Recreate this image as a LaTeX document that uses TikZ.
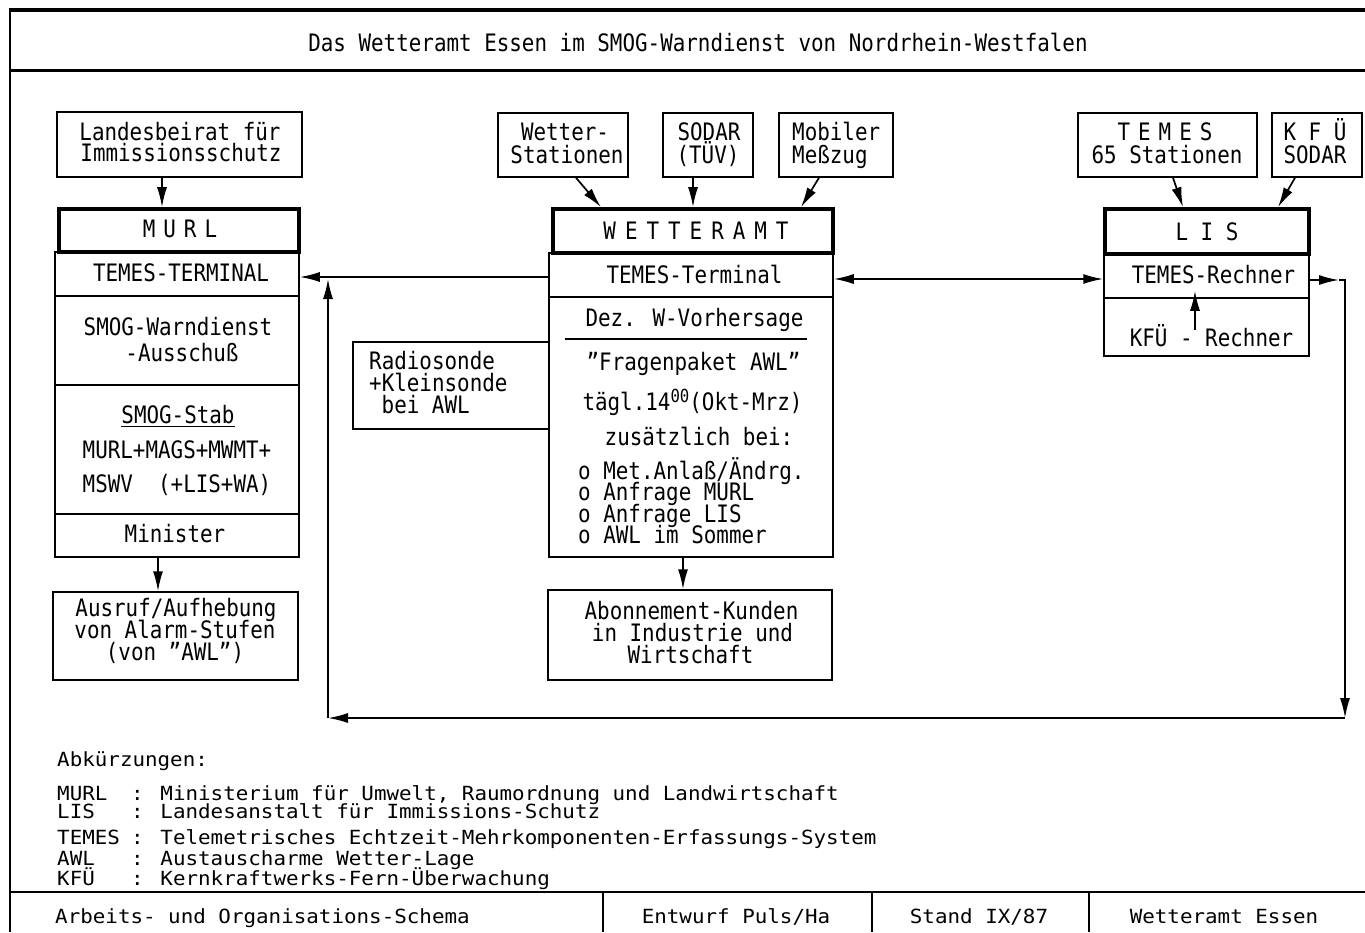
\documentclass[tikz,border=0pt]{standalone}
\usepackage{fontspec}
\usetikzlibrary{arrows.meta}
\newfontfamily\bfam[FakeStretch=0.87]{DejaVu Sans Mono}
\newfontfamily\lfam[FakeStretch=1.07]{DejaVu Sans Mono}
\newcommand\bfnt{\bfam\fontsize{24pt}{22pt}\selectfont}
\newcommand\lfnt{\lfam\fontsize{19.5pt}{22pt}\selectfont}
\newcommand\lsp{\hspace{8pt}}
\newcommand\wsp{\hspace{9pt}}
\begin{document}
\begin{tikzpicture}[x=1pt,y=-1pt,
  box/.style={draw, line width=1.5pt, inner sep=0pt},
  hbox/.style={draw, line width=3.6pt, inner sep=0pt},
  tx/.style={inner sep=0pt, font=\bfnt, text height=16pt, text depth=0pt},
  lg/.style={inner sep=0pt, font=\lfnt, text height=14pt, text depth=0pt, anchor=west},
  arr/.style={line width=1.7pt, -{Latex[length=20pt,width=10pt]}},
  darr/.style={line width=1.7pt, {Latex[length=20pt,width=10pt]}-{Latex[length=20pt,width=10pt]}}]
\useasboundingbox (0,0) rectangle (1365,932);
\fill[white] (0,0) rectangle (1365,932);
% frame
\draw[line width=4pt] (10,10) -- (1365,10);
\draw[line width=3pt] (10,70) -- (1365,70);
\draw[line width=2.4pt] (10,8) -- (10,932);
\draw[line width=2.2pt] (10,892) -- (1365,892);
\draw[line width=1.6pt] (603,892) -- (603,932) (872,892) -- (872,932) (1089,892) -- (1089,932);
\node[tx] (title) at (698,43) {Das Wetteramt Essen im SMOG-Warndienst von Nordrhein-Westfalen};

% ---------- left column
\node[box, minimum width=245pt, minimum height=65pt] (lbr) at (179.5,144.5) {};
\node[tx] (lbr1) at (180,132) {Landesbeirat für};
\node[tx] (lbr2) at (181,153.5) {Immissionsschutz};
\node[hbox, minimum width=240pt, minimum height=43pt] (murlH) at (179,230.5) {};
\node[tx] (murlHt) at (180,229) {M\lsp U\lsp R\lsp L};
\node[box, minimum width=244pt, minimum height=44pt] (murl1) at (177,274) {};
\node[tx] (murl1t) at (181,273) {TEMES-TERMINAL};
\node[box, minimum width=244pt, minimum height=89pt] (murl2) at (177,340.5) {};
\node[tx] (murl2a) at (178,327) {SMOG-Warndienst};
\node[tx] (murl2b) at (182,353) {-Ausschuß};
\node[box, minimum width=244pt, minimum height=129pt] (murl3) at (177,449.5) {};
\node[tx] (sstab) at (178,415.5) {SMOG-Stab};
\draw[line width=1.3pt] ([yshift=-2.5pt]sstab.south west) -- ([yshift=-2.5pt]sstab.south east);
\node[tx] (murl3a) at (177,450.5) {MURL+MAGS+MWMT+};
\node[tx] (murl3b) at (177,484.5) {MSWV\ \ (+LIS+WA)};
\node[box, minimum width=244pt, minimum height=43pt] (murl4) at (177,535.5) {};
\node[tx] (murl4t) at (175,534.5) {Minister};
\node[box, minimum width=245pt, minimum height=88pt] (ausruf) at (175.5,636) {};
\node[tx] (aus1) at (176,608) {Ausruf/Aufhebung};
\node[tx] (aus2) at (175,630) {von Alarm-Stufen};
\node[tx] (aus3) at (175,652) {(von ”AWL”)};

% ---------- centre column
\node[box, minimum width=130pt, minimum height=64pt] (ws) at (563,145) {};
\node[tx] (ws1) at (565,132) {Wetter-};
\node[tx] (ws2) at (567,155) {Stationen};
\node[box, minimum width=90pt, minimum height=64pt] (sodar) at (708,145) {};
\node[tx] (sod1) at (709,132) {SODAR};
\node[tx] (sod2) at (708,155) {(TÜV)};
\node[box, minimum width=114pt, minimum height=64pt] (mob) at (836,145) {};
\node[tx, anchor=west] (mob1) at (792,132) {Mobiler};
\node[tx, anchor=west] (mob2) at (792,155) {Meßzug};
\node[hbox, minimum width=280pt, minimum height=44pt] (wH) at (693,231) {};
\node[tx] (wHt) at (696,231) {W\wsp E\wsp T\wsp T\wsp E\wsp R\wsp A\wsp M\wsp T};
\node[box, minimum width=284pt, minimum height=44pt] (wT) at (691,275) {};
\node[tx] (wTt) at (694.5,275) {TEMES-Terminal};
\node[box, minimum width=284pt, minimum height=260pt] (wB) at (691,427) {};
\node[tx] (dez) at (694.5,318) {Dez. W-Vorhersage};
\draw[line width=1.3pt] (565,339) -- (807,339);
\node[tx] (frag) at (693.5,362) {”Fragenpaket AWL”};
\node[tx] (taegl) at (692.5,402) {tägl.14\raisebox{8pt}{\fontsize{18pt}{18pt}\selectfont 00}(Okt-Mrz)};
\node[tx] (zus) at (699,437) {zusätzlich bei:};
\node[tx, anchor=west] (li1) at (578,471) {o Met.Anlaß/Ändrg.};
\node[tx, anchor=west] (li2) at (578,492.5) {o Anfrage MURL};
\node[tx, anchor=west] (li3) at (578,514) {o Anfrage LIS};
\node[tx, anchor=west] (li4) at (578,535.5) {o AWL im Sommer};
\node[box, minimum width=196pt, minimum height=87pt] (radio) at (451,385.5) {};
\node[tx, anchor=west] (rad1) at (369,361.5) {Radiosonde};
\node[tx, anchor=west] (rad2) at (369,383) {+Kleinsonde};
\node[tx, anchor=west] (rad3) at (381.5,405) {bei AWL};
\node[box, minimum width=284pt, minimum height=90pt] (abo) at (690,635) {};
\node[tx] (abo1) at (691.5,611) {Abonnement-Kunden};
\node[tx] (abo2) at (692.5,633) {in Industrie und};
\node[tx] (abo3) at (690.5,655) {Wirtschaft};

% ---------- right column
\node[box, minimum width=179pt, minimum height=64pt] (temes) at (1167.5,145) {};
\node[tx] (tem1) at (1165,132) {T\lsp E\lsp M\lsp E\lsp S};
\node[tx] (tem2) at (1167,155) {65 Stationen};
\node[box, minimum width=90pt, minimum height=64pt] (kfu) at (1317,145) {};
\node[tx] (kfu1) at (1315,132) {K F Ü};
\node[tx] (kfu2) at (1315,155) {SODAR};
\node[hbox, minimum width=204pt, minimum height=45pt] (lisH) at (1207,231.5) {};
\node[tx] (lisHt) at (1207,232) {L I S};
\node[box, minimum width=205pt, minimum height=44pt] (lisT) at (1206.5,276) {};
\node[tx] (lisTt) at (1213.5,275) {TEMES-Rechner};
\node[box, minimum width=205pt, minimum height=58pt] (lisK) at (1206.5,327) {};
\node[tx] (lisKt) at (1211.5,338) {KFÜ - Rechner};

% ---------- connectors
\draw[arr] (lbr.south -| 162,0) -- (murlH.north -| 162,0);
\draw[arr] (murl4.south -| 158,0) -- (ausruf.north -| 158,0);
\draw[arr] (wB.south -| 683,0) -- (abo.north -| 683,0);
\draw[arr] ([xshift=13pt]ws.south) -- ([xshift=-92pt]wH.north);
\draw[arr] (sodar.south -| wH.north) -- (wH.north);
\draw[arr] ([xshift=-17pt]mob.south) -- ([xshift=108pt]wH.north);
\draw[arr] ([xshift=5.5pt]temes.south) -- ([xshift=-24pt]lisH.north);
\draw[arr] ([xshift=-22pt]kfu.south) -- ([xshift=71pt]lisH.north);
\draw[arr] (lisKt.north -| 1195,0) -- (lisT.south -| 1195,0) -- ++(0,-8);
\draw[arr] ([yshift=-2pt]wT.west) -- ([yshift=-2pt]wT.west -| murl1.east);
\draw[darr] ([yshift=-4pt]wT.east) -- ([yshift=-4pt]wT.east -| lisT.west);
\coordinate (rtip) at (1339,280);
\coordinate (rc) at (1345,280);
\coordinate (br) at (1345,718);
\coordinate (bl) at (328,718);
\coordinate (tl) at (328,279);
\draw[arr] ([yshift=-4pt]lisT.east) -- (rtip);
\draw[arr] (rtip) -- (rc) -- (br);
\draw[arr] (br) -- (bl);
\draw[arr] (bl) -- (tl);

% ---------- legend
\node[lg] (abk) at (57,759) {Abkürzungen:};
\node[lg] (k1) at (57,793) {MURL};
\node[lg] (v1) at (131,793) {: Ministerium für Umwelt, Raumordnung und Landwirtschaft};
\node[lg] (k2) at (57,811) {LIS};
\node[lg] (v2) at (131,811) {: Landesanstalt für Immissions-Schutz};
\node[lg] (k3) at (57,837) {TEMES};
\node[lg] (v3) at (131,837) {: Telemetrisches Echtzeit-Mehrkomponenten-Erfassungs-System};
\node[lg] (k4) at (57,858) {AWL};
\node[lg] (v4) at (131,858) {: Austauscharme Wetter-Lage};
\node[lg] (k5) at (57,878) {KFÜ};
\node[lg] (v5) at (131,878) {: Kernkraftwerks-Fern-Überwachung};

% ---------- footer
\node[lg] (f1) at (55,916) {Arbeits- und Organisations-Schema};
\node[lg, anchor=center] (f2) at (736,916) {Entwurf Puls/Ha};
\node[lg, anchor=center] (f3) at (979,916) {Stand IX/87};
\node[lg, anchor=center] (f4) at (1224,916) {Wetteramt Essen};
\end{tikzpicture}
\end{document}
